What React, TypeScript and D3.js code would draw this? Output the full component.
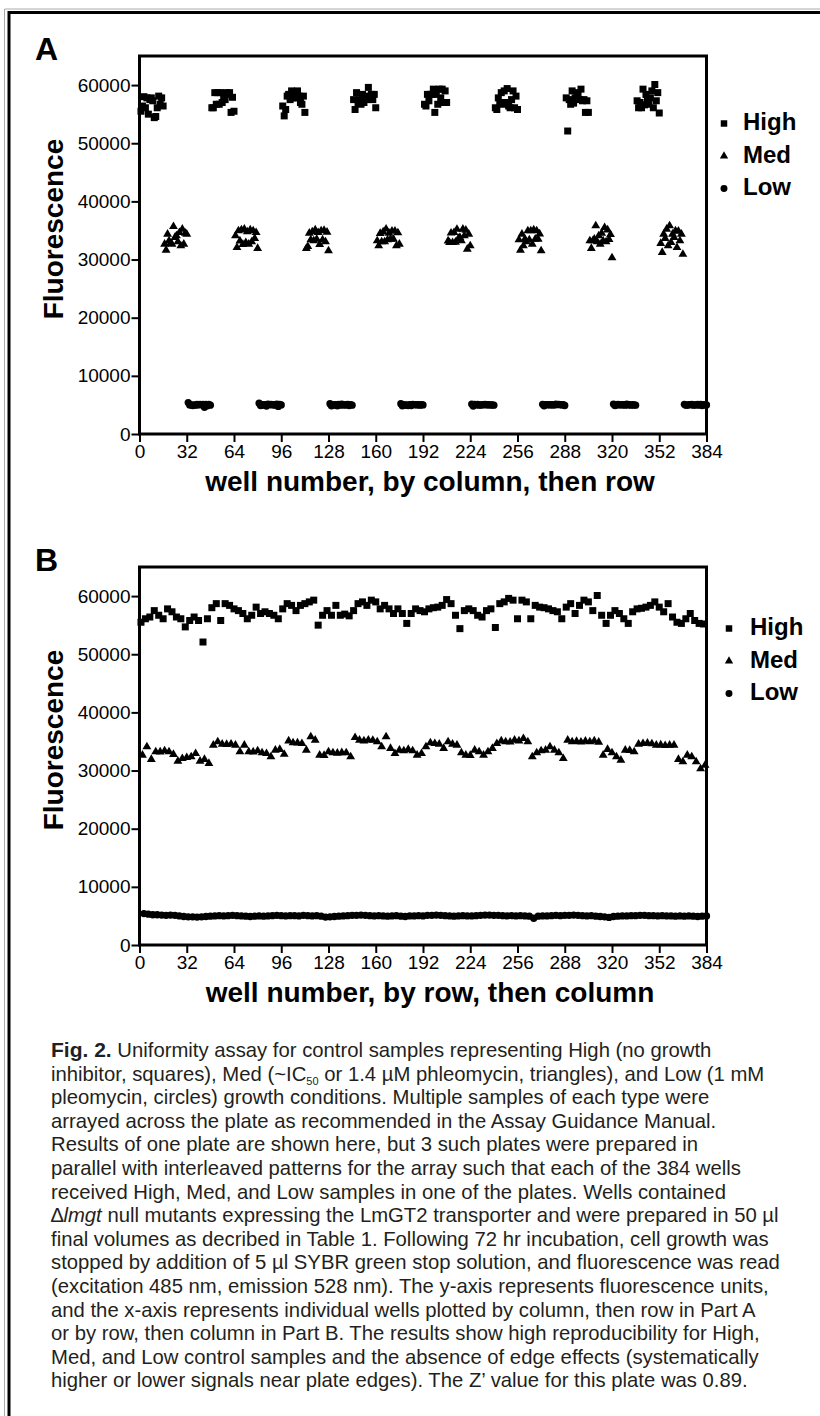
import { useEffect, useRef } from 'react'
import * as d3 from 'd3'

const xTicks = [0, 32, 64, 96, 128, 160, 192, 224, 256, 288, 320, 352, 384]
const yTicks = [0, 10000, 20000, 30000, 40000, 50000, 60000]
const seriesNames = ['High', 'Med', 'Low']

// one plate, listed row by row: 8 wells of each type per row (cols 1,4,..22 / 2,5,..23 / 3,6,..24)
const highValues = [
  55500, 56100, 56400, 57500, 56700, 56100, 57800, 57300,
  56400, 56100, 54700, 55800, 56400, 55800, 52100, 56100,
  58000, 58700, 55800, 58700, 58400, 57800, 57500, 57000,
  56100, 56700, 58100, 57000, 57300, 57000, 56700, 56100,
  57800, 58700, 58400, 57500, 58400, 58700, 59000, 59300,
  55000, 56700, 57500, 56700, 58400, 56700, 56900, 56600,
  57500, 58700, 59000, 58400, 59300, 59000, 57800, 58400,
  57800, 57000, 57800, 57000, 55300, 57000, 57800, 57500,
  57300, 57800, 58000, 58100, 58400, 59400, 58700, 56700,
  54400, 57500, 57800, 57500, 56700, 56400, 57500, 57800,
  54600, 58700, 59000, 59600, 59300, 56100, 59300, 59000,
  56100, 58400, 58100, 58000, 57800, 57500, 57300, 56100,
  58100, 58700, 57000, 58400, 59300, 59000, 57500, 60100,
  56700, 55300, 56700, 57500, 57000, 56100, 55300, 57300,
  57800, 57900, 58100, 58400, 59000, 58100, 57300, 58700,
  56400, 55500, 55300, 56100, 57000, 55800, 55300, 55200,
]
const medValues = [
  32650, 34080, 31900, 33220, 33200, 33400, 33220, 32760,
  31600, 32070, 32240, 32360, 32930, 31600, 31900, 31220,
  34360, 34940, 34540, 34500, 34560, 34360, 33220, 34360,
  33220, 33200, 33400, 33050, 32930, 32360, 33500, 33620,
  32800, 35100, 34770, 34750, 34650, 33500, 35800, 35230,
  32650, 32600, 33220, 33050, 33000, 33080, 33050, 32360,
  35680, 35230, 35100, 35250, 35200, 34940, 34080, 35800,
  33800, 32930, 33500, 33400, 33620, 33400, 32650, 32930,
  34080, 34770, 34650, 34540, 33800, 34940, 34540, 34360,
  33050, 32650, 32600, 33500, 33220, 32650, 33220, 33800,
  34650, 35100, 34940, 34900, 35230, 35100, 35510, 34940,
  32360, 33050, 33400, 33500, 34080, 33500, 33050, 32070,
  35230, 34940, 35000, 34900, 35050, 34950, 35100, 34880,
  32650, 33620, 33050, 32360, 31790, 33500, 33450, 33220,
  34540, 34650, 34700, 34600, 34360, 34400, 34300, 34360,
  34360, 31900, 31500, 32650, 32360, 31500, 30300, 30900,
]
const lowValues = [
  5400, 5300, 5200, 5200, 5150, 5100, 5150, 5100,
  5000, 4900, 4850, 4850, 4800, 4850, 4900, 4950,
  5000, 5050, 5000, 5050, 5100, 5050, 5000, 4950,
  4900, 4950, 5000, 4950, 5000, 5050, 5100, 5050,
  5000, 5050, 5050, 5000, 5100, 5050, 5000, 5050,
  4950, 4800, 4850, 4900, 4950, 5000, 5050, 5100,
  5100, 5150, 5100, 5050, 5000, 5050, 5000, 4950,
  5000, 5050, 4950, 4900, 5000, 5000, 5050, 5000,
  5100, 5100, 5150, 5100, 5050, 5000, 4950, 5000,
  5050, 5000, 5000, 5050, 5100, 5150, 5150, 5100,
  5100, 5050, 5000, 5050, 5000, 5050, 5000, 4950,
  4600, 4950, 5000, 5000, 5050, 5100, 5050, 5100,
  5100, 5150, 5100, 5050, 5000, 5050, 4950, 4900,
  4850, 4750, 4900, 4950, 5000, 5000, 5050, 5050,
  5100, 5100, 5050, 5050, 5000, 5050, 5000, 5000,
  4950, 5000, 4950, 5000, 4950, 4900, 4950, 5000,
]
const seriesValues = [highValues, medValues, lowValues]

const captionLines = [
  [['Fig. 2.', 'b'], [' Uniformity assay for control samples representing High (no growth', '']],
  [['inhibitor, squares), Med (~IC', ''], ['50', 'sub'], [' or 1.4 µM phleomycin, triangles), and Low (1 mM', '']],
  [['pleomycin, circles) growth conditions. Multiple samples of each type were', '']],
  [['arrayed across the plate as recommended in the Assay Guidance Manual.', '']],
  [['Results of one plate are shown here, but 3 such plates were prepared in', '']],
  [['parallel with interleaved patterns for the array such that each of the 384 wells', '']],
  [['received High, Med, and Low samples in one of the plates. Wells contained', '']],
  [['∆', ''], ['lmgt', 'i'], [' null mutants expressing the LmGT2 transporter and were prepared in 50 µl', '']],
  [['final volumes as decribed in Table 1. Following 72 hr incubation, cell growth was', '']],
  [['stopped by addition of 5 µl SYBR green stop solution, and fluorescence was read', '']],
  [['(excitation 485 nm, emission 528 nm). The y-axis represents fluorescence units,', '']],
  [['and the x-axis represents individual wells plotted by column, then row in Part A', '']],
  [['or by row, then column in Part B. The results show high reproducibility for High,', '']],
  [['Med, and Low control samples and the absence of edge effects (systematically', '']],
  [['higher or lower signals near plate edges). The Z’ value for this plate was 0.89.', '']],
]

const FONT = '"Liberation Sans", Arial, Helvetica, sans-serif'

const panels = [
  { label: 'A', order: 'column', xTitle: 'well number, by column, then row', top: 56, bottom: 434, legendX: 724, legendTextX: 743, legendY: 130 },
  { label: 'B', order: 'row', xTitle: 'well number, by row, then column', top: 567, bottom: 945, legendX: 729, legendTextX: 750, legendY: 635 },
]

// i = index in plate-row order, offset = which column of the H/M/L triplet
function wellNumber(i, offset, order) {
  const row = Math.floor(i / 8)
  const col = (i % 8) * 3 + offset
  return order === 'column' ? col * 16 + row + 1 : row * 24 + col + 1
}

function App() {
  const svgRef = useRef(null)

  useEffect(() => {
    const width = 820
    const height = 1416
    const svg = d3.select(svgRef.current)
    svg.selectAll('*').remove()
    svg.attr('width', width).attr('height', height)

    svg.append('rect').attr('width', width).attr('height', height).attr('fill', '#fff')
    // frame (only top and left visible)
    svg.append('path').attr('d', 'M4.5,1416V9H820').attr('fill', 'none').attr('stroke', '#aaa').attr('stroke-width', 1)
    svg.append('path').attr('d', 'M9,1416V12.5H820').attr('fill', 'none').attr('stroke', '#000').attr('stroke-width', 3)

    const symbols = [d3.symbolSquare, d3.symbolTriangle, d3.symbolCircle]
    const symSizes = [49, 34, 42]
    const legendSizes = [42, 30, 38]

    panels.forEach(p => {
      const g = svg.append('g')
      const x = d3.scaleLinear().domain([0, 384]).range([139.5, 706.5])
      const y = d3.scaleLinear().domain([0, 65000]).range([p.bottom, p.top])

      g.append('text')
        .attr('x', 35).attr('y', p.top + 4)
        .attr('font-family', FONT).attr('font-weight', 'bold').attr('font-size', 32)
        .text(p.label)

      // points
      seriesValues.forEach((vals, s) => {
        const sym = d3.symbol().type(symbols[s]).size(symSizes[s])
        g.append('g').selectAll('path')
          .data(vals)
          .join('path')
          .attr('transform', (d, i) => `translate(${x(wellNumber(i, s, p.order))},${y(d)})`)
          .attr('d', sym())
          .attr('fill', '#000')
      })

      // axes
      const yAxis = d3.axisLeft(y).tickValues(yTicks).tickSize(8).tickSizeOuter(0).tickPadding(1).tickFormat(d3.format('d'))
      g.append('g')
        .attr('transform', `translate(${x(0)},0)`)
        .call(yAxis)
        .call(ax => ax.select('.domain').remove())
        .call(ax => ax.selectAll('line').attr('stroke', '#000').attr('stroke-width', 2))
        .call(ax => ax.selectAll('text').attr('fill', '#000').attr('font-size', 19).attr('font-family', FONT))

      const xAxis = d3.axisBottom(x).tickValues(xTicks).tickSize(8).tickSizeOuter(0).tickPadding(2.5)
      g.append('g')
        .attr('transform', `translate(0,${p.bottom})`)
        .call(xAxis)
        .call(ax => ax.select('.domain').remove())
        .call(ax => ax.selectAll('line').attr('stroke', '#000').attr('stroke-width', 2))
        .call(ax => ax.selectAll('text').attr('fill', '#000').attr('font-size', 19).attr('font-family', FONT))

      // plot frame
      g.append('rect')
        .attr('x', x(0)).attr('y', p.top)
        .attr('width', x(384) - x(0)).attr('height', p.bottom - p.top)
        .attr('fill', 'none').attr('stroke', '#000').attr('stroke-width', 3)

      g.append('text')
        .attr('transform', `translate(63,${(p.top + p.bottom) / 2 - 16}) rotate(-90)`)
        .attr('text-anchor', 'middle')
        .attr('font-family', FONT).attr('font-weight', 'bold').attr('font-size', 28)
        .text('Fluorescence')

      g.append('text')
        .attr('x', 430).attr('y', p.bottom + 57)
        .attr('text-anchor', 'middle')
        .attr('font-family', FONT).attr('font-weight', 'bold').attr('font-size', 28)
        .text(p.xTitle)

      // legend
      seriesNames.forEach((name, s) => {
        const ly = p.legendY + s * 32.5
        g.append('path')
          .attr('transform', `translate(${p.legendX},${ly - 6.5})`)
          .attr('d', d3.symbol().type(symbols[s]).size(legendSizes[s])())
          .attr('fill', '#000')
        g.append('text')
          .attr('x', p.legendTextX).attr('y', ly)
          .attr('font-family', FONT).attr('font-weight', 'bold').attr('font-size', 24)
          .text(name)
      })
    })

    // caption
    const cap = svg.append('g').attr('font-family', FONT).attr('font-size', 20.3).attr('fill', '#231f20')
    captionLines.forEach((segs, li) => {
      const t = cap.append('text').attr('x', 51).attr('y', 1057 + li * 23.6)
      let shifted = false
      segs.forEach(([txt, st]) => {
        const ts = t.append('tspan').text(txt)
        if (st === 'b') ts.attr('font-weight', 'bold').attr('font-size', 21)
        if (st === 'i') ts.attr('font-style', 'italic')
        if (st === 'sub') { ts.attr('font-size', 11).attr('dy', 4); shifted = true }
        else if (shifted) { ts.attr('dy', -4); shifted = false }
      })
    })
  }, [])

  return <svg ref={svgRef} style={{ position: 'absolute', left: 0, top: 0, display: 'block' }} />
}

export default App
